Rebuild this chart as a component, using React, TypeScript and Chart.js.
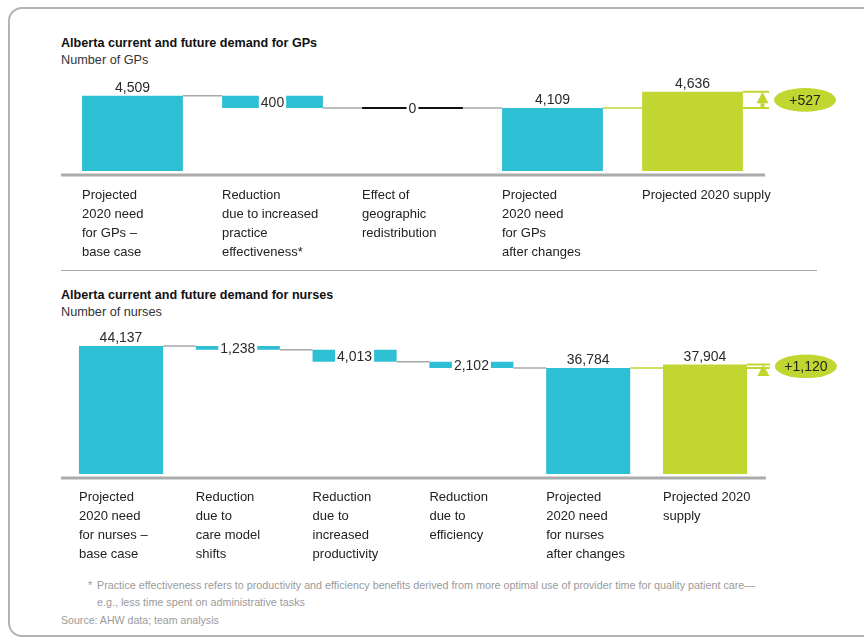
import React, { useEffect, useRef } from 'react';
import { Chart, registerables } from 'chart.js';

Chart.register(...registerables);

const FONT = '"Liberation Sans", Arial, sans-serif';
const CYAN = '#2dbfd4';
const GREEN = '#c2d631';
const CONNECTOR = '#a8a8a8';

// ---- GP data ----
const gpCategories: string[][] = [
  ['Projected', '2020 need', 'for GPs –', 'base case'],
  ['Reduction', 'due to increased', 'practice', 'effectiveness*'],
  ['Effect of', 'geographic', 'redistribution'],
  ['Projected', '2020 need', 'for GPs', 'after changes'],
  ['Projected 2020 supply'],
];
const gpValues = [4509, 400, 0, 4109, 4636];
const gpKinds = ['total', 'decrease', 'decrease', 'total', 'supply'];
const gpAxisMin = 2060;
const gpAxisMax = 5020;

// ---- Nurse data ----
const nurseCategories: string[][] = [
  ['Projected', '2020 need', 'for nurses –', 'base case'],
  ['Reduction', 'due to', 'care model', 'shifts'],
  ['Reduction', 'due to', 'increased', 'productivity'],
  ['Reduction', 'due to', 'efficiency'],
  ['Projected', '2020 need', 'for nurses', 'after changes'],
  ['Projected 2020', 'supply'],
];
const nurseValues = [44137, 1238, 4013, 2102, 36784, 37904];
const nurseKinds = ['total', 'decrease', 'decrease', 'decrease', 'total', 'supply'];
const nurseAxisMin = 1300;
const nurseAxisMax = 49490;

const fmt = (n: number) => n.toLocaleString('en-US');

interface Layout {
  padding: { top: number; left: number; right: number; bottom: number };
  axisHeight: number;
  labelOffset: number;
  tickPadding: number;
}

function makeChart(
  canvas: HTMLCanvasElement,
  cats: string[][],
  values: number[],
  kinds: string[],
  yMin: number,
  yMax: number,
  lay: Layout
) {
  const steps: { lo: number; hi: number; after: number }[] = [];
  let level = 0;
  values.forEach((v, i) => {
    if (kinds[i] === 'decrease') {
      steps.push({ lo: level - v, hi: level, after: level - v });
      level -= v;
    } else {
      steps.push({ lo: yMin, hi: v, after: v });
      level = v;
    }
  });
  const data = steps.map((s) => [s.lo, s.hi]);
  const colors = kinds.map((k) => (k === 'supply' ? GREEN : CYAN));

  const plugin = {
    id: 'waterfallExtras',
    afterDatasetsDraw(chart: any) {
      const ctx = chart.ctx as CanvasRenderingContext2D;
      const ys = chart.scales.y;
      const ca = chart.chartArea;
      const meta = chart.getDatasetMeta(0);
      const geo = meta.data.map((el: any) => {
        const p = el.getProps(['x', 'width'], true);
        return { l: p.x - p.width / 2, r: p.x + p.width / 2, c: p.x };
      });
      const py = (v: number) => ys.getPixelForValue(v);
      ctx.save();
      // baseline
      ctx.fillStyle = '#ababab';
      ctx.fillRect(ca.left - 1.5, ca.bottom + 2.5, ca.right - ca.left + 4, 3);

      // connectors
      ctx.lineWidth = 1.5;
      for (let i = 0; i < values.length - 1; i++) {
        const y = py(steps[i].after);
        ctx.strokeStyle = kinds[i + 1] === 'supply' ? GREEN : CONNECTOR;
        ctx.beginPath();
        ctx.moveTo(geo[i].r, y);
        ctx.lineTo(geo[i + 1].l, y);
        ctx.stroke();
      }

      // zero-change bars as black lines
      values.forEach((v, i) => {
        if (kinds[i] === 'decrease' && v === 0) {
          const y = py(steps[i].hi);
          ctx.strokeStyle = '#111';
          ctx.lineWidth = 2;
          ctx.beginPath();
          ctx.moveTo(geo[i].l, y);
          ctx.lineTo(geo[i].r, y);
          ctx.stroke();
        }
      });

      // value labels
      ctx.font = `14px ${FONT}`;
      ctx.textAlign = 'center';
      ctx.textBaseline = 'alphabetic';
      values.forEach((v, i) => {
        const txt = fmt(v);
        if (kinds[i] === 'decrease') {
          const yTop = py(steps[i].hi);
          const yBot = py(steps[i].lo);
          const mid = (yTop + yBot) / 2;
          const w = ctx.measureText(txt).width + 4;
          const h = Math.max(yBot - yTop, 0) + 4;
          ctx.fillStyle = '#ffffff';
          ctx.fillRect(geo[i].c - w / 2, mid - h / 2, w, h);
          ctx.fillStyle = '#2a2a2a';
          ctx.fillText(txt, geo[i].c, mid + 5);
        } else {
          ctx.fillStyle = '#2a2a2a';
          ctx.fillText(txt, geo[i].c, py(v) - 4);
        }
      });

      // gap bracket against supply
      const s = kinds.indexOf('supply');
      if (s > 0) {
        const yHi = py(values[s]);
        const yLo = py(values[s - 1]);
        const x0 = geo[s].r;
        const ax = ca.right;
        ctx.strokeStyle = GREEN;
        ctx.lineWidth = 2;
        ctx.beginPath();
        ctx.moveTo(x0, yHi);
        ctx.lineTo(ax + 6.5, yHi);
        ctx.moveTo(x0, yLo);
        ctx.lineTo(ax + 6.5, yLo);
        ctx.stroke();
        ctx.fillStyle = GREEN;
        const base = yHi + 11.5;
        ctx.beginPath();
        ctx.moveTo(ax, yHi);
        ctx.lineTo(ax + 6, base);
        ctx.lineTo(ax - 6, base);
        ctx.closePath();
        ctx.fill();
        if (yLo > base) ctx.fillRect(ax - 2, base, 4, yLo - base);
        const ex = ca.right + 42.5;
        const ey = (yHi + yLo) / 2;
        ctx.beginPath();
        ctx.ellipse(ex, ey, 31, 11.8, 0, 0, Math.PI * 2);
        ctx.fill();
        ctx.fillStyle = '#222';
        ctx.font = `14px ${FONT}`;
        ctx.fillText('+' + fmt(values[s] - values[s - 1]), ex, ey + 5);
      }
      ctx.restore();
    },
  };

  return new Chart(canvas, {
    type: 'bar',
    data: {
      labels: cats as any,
      datasets: [
        {
          data: data as any,
          backgroundColor: colors,
          borderWidth: 0,
          barPercentage: 0.72,
          categoryPercentage: 1,
        },
      ],
    },
    options: {
      responsive: false,
      animation: false,
      events: [],
      layout: { padding: lay.padding },
      plugins: {
        legend: { display: false },
        tooltip: { enabled: false },
        title: { display: false },
      },
      scales: {
        x: {
          offset: true,
          grid: { display: false, drawTicks: false },
          border: { display: false },
          ticks: {
            autoSkip: false,
            maxRotation: 0,
            minRotation: 0,
            align: 'start',
            labelOffset: lay.labelOffset,
            padding: lay.tickPadding,
            color: '#222',
            font: { family: FONT, size: 13, lineHeight: 19 / 13 },
          },
          afterFit: (scale: any) => {
            scale.height = lay.axisHeight;
          },
        },
        y: { display: false, min: yMin, max: yMax },
      },
    } as any,
    plugins: [plugin],
  });
}

export default function App() {
  const gpRef = useRef<HTMLCanvasElement>(null);
  const nRef = useRef<HTMLCanvasElement>(null);

  useEffect(() => {
    const c1 = makeChart(gpRef.current!, gpCategories, gpValues, gpKinds, gpAxisMin, gpAxisMax, {
      padding: { top: 10, left: 62.5, right: 101.5, bottom: 0 },
      axisHeight: 99,
      labelOffset: -50.5,
      tickPadding: 15,
    });
    const c2 = makeChart(nRef.current!, nurseCategories, nurseValues, nurseKinds, nurseAxisMin, nurseAxisMax, {
      padding: { top: 10, left: 62.6, right: 100.6, bottom: 0 },
      axisHeight: 96,
      labelOffset: -42,
      tickPadding: 14,
    });
    return () => {
      c1.destroy();
      c2.destroy();
    };
  }, []);

  const abs = (o: React.CSSProperties): React.CSSProperties => ({ position: 'absolute', whiteSpace: 'nowrap', ...o });

  return (
    <div
      style={{
        position: 'fixed',
        left: 0,
        top: 0,
        width: 864,
        height: 640,
        overflow: 'hidden',
        background: '#fff',
        fontFamily: FONT,
        color: '#222',
      }}
    >
      <div
        style={abs({
          left: 8,
          top: 7,
          width: 900,
          height: 630,
          border: '2px solid #b3b3b3',
          borderRadius: 14,
          boxSizing: 'border-box',
        })}
      />
      <div style={abs({ left: 61, top: 35, fontSize: 12.6, lineHeight: '16px', fontWeight: 'bold', color: '#111' })}>
        Alberta current and future demand for GPs
      </div>
      <div style={abs({ left: 61, top: 52, fontSize: 12.7, lineHeight: '16px', color: '#333' })}>Number of GPs</div>
      <canvas ref={gpRef} width={864} height={200} style={abs({ left: 0, top: 70, display: 'block' })} />
      <div style={abs({ left: 61, top: 270, width: 756, height: 1, background: '#aaa' })} />
      <div style={abs({ left: 61, top: 287, fontSize: 12.6, lineHeight: '16px', fontWeight: 'bold', color: '#111' })}>
        Alberta current and future demand for nurses
      </div>
      <div style={abs({ left: 61, top: 304, fontSize: 12.7, lineHeight: '16px', color: '#333' })}>Number of nurses</div>
      <canvas ref={nRef} width={864} height={250} style={abs({ left: 0, top: 320, display: 'block' })} />
      <div style={abs({ left: 88, top: 577, fontSize: 10.75, lineHeight: '17px', color: '#9a9a9a' })}>*</div>
      <div style={abs({ left: 97, top: 577, fontSize: 10.75, lineHeight: '17px', color: '#9a9a9a' })}>
        Practice effectiveness refers to productivity and efficiency benefits derived from more optimal use of provider time for quality patient care—
        <br />
        e.g., less time spent on administrative tasks
      </div>
      <div style={abs({ left: 61, top: 612, fontSize: 10.6, lineHeight: '17px', color: '#9a9a9a' })}>
        Source: AHW data; team analysis
      </div>
    </div>
  );
}
